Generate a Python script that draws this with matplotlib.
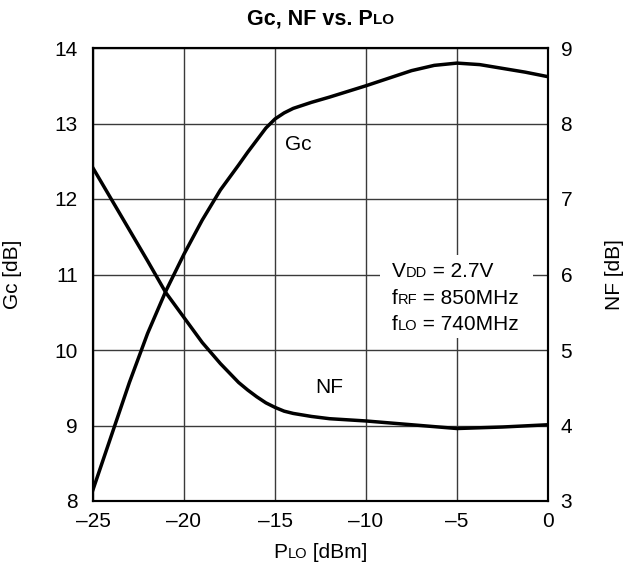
import matplotlib
matplotlib.use("Agg")
import matplotlib.pyplot as plt
from matplotlib.offsetbox import TextArea, HPacker, AnnotationBbox
from matplotlib.patches import Rectangle

plt.rcParams['font.family'] = ['Liberation Sans', 'DejaVu Sans']

# P_LO sweep [dBm]
p_lo = [-25, -24, -23, -22, -21, -20, -19, -18, -17, -16.5, -16, -15.5,
        -15, -14.5, -14, -13, -12, -10, -8.75, -7.5, -6.25, -5, -3.75,
        -2.5, -1.25, 0]
# conversion gain Gc [dB]
gc = [8.15, 8.86, 9.57, 10.22, 10.78, 11.27, 11.72, 12.12, 12.45, 12.62,
      12.78, 12.94, 13.06, 13.14, 13.2, 13.28, 13.35, 13.5, 13.6, 13.7,
      13.77, 13.8, 13.78, 13.73, 13.68, 13.62]
# noise figure NF [dB]
nf = [7.41, 7.0, 6.59, 6.18, 5.76, 5.43, 5.1, 4.82, 4.57, 4.47,
      4.38, 4.3, 4.24, 4.19, 4.16, 4.12, 4.09, 4.06, 4.035, 4.01, 3.985,
      3.96, 3.97, 3.98, 3.995, 4.01]

x_ticks = [-25, -20, -15, -10, -5, 0]
x_ticklabels = ['\u201325', '\u201320', '\u201315', '\u201310', '\u20135', '0']
gc_ticks = [8, 9, 10, 11, 12, 13, 14]
nf_ticks = [3, 4, 5, 6, 7, 8, 9]


def mixed(fig, parts, xy, align=(0.5, 0.5), big=15, small=10.5,
          weight='normal'):
    # parts: list of (text, small?) drawn on a common baseline
    boxes = [TextArea(s, textprops=dict(fontsize=small if sm else big,
                                        fontweight=weight))
             for s, sm in parts]
    pack = HPacker(children=boxes, align='baseline', pad=0, sep=0)
    ab = AnnotationBbox(pack, xy, xycoords='figure pixels',
                        box_alignment=align, frameon=False, pad=0)
    fig.add_artist(ab)


fig = plt.figure(figsize=(6.26, 5.69), dpi=100)
ax = fig.add_axes([93 / 626, 1 - 501 / 569, 455 / 626, 453 / 569])
ax2 = ax.twinx()

ax.plot(p_lo, gc, color='black', lw=2.5, zorder=3)
ax2.plot(p_lo, nf, color='black', lw=2.5, zorder=3)

ax.set_xlim(-25, 0)
ax.set_ylim(8, 14)
ax2.set_ylim(3, 9)
ax.set_xticks(x_ticks)
ax.set_xticklabels(x_ticklabels)
ax.set_yticks(gc_ticks)
ax2.set_yticks(nf_ticks)
ax.set_axisbelow(True)
ax.grid(True, color='#3a3a3a', lw=1.0)

ax.tick_params(axis='both', length=0, labelsize=15)
ax.tick_params(axis='y', pad=11)
ax.tick_params(axis='x', pad=8)
ax2.tick_params(axis='y', length=0, labelsize=15, pad=9)
for a in (ax, ax2):
    for sp in a.spines.values():
        sp.set_linewidth(1.5)

ax.set_ylabel('Gc [dB]', fontsize=15)
ax.yaxis.set_label_coords(-0.156, 0.5)
ax2.set_ylabel('NF [dB]', fontsize=15)
ax2.yaxis.set_label_coords(1.125, 0.5)

# curve labels
ax.text(-13.75, 12.72, 'Gc', fontsize=15, ha='center', va='center')
ax.text(-12.0, 9.5, 'NF', fontsize=15, ha='center', va='center')

# condition box
ax.add_patch(Rectangle((0.631, 0.36), 0.336, 0.183, transform=ax.transAxes,
                       facecolor='white', edgecolor='none', zorder=1))
mixed(fig, [('V', False), ('DD', True), (' = 2.7V', False)],
      (392, 569 - 281), align=(0, 0))
mixed(fig, [('f', False), ('RF', True), (' = 850MHz', False)],
      (392, 569 - 308), align=(0, 0))
mixed(fig, [('f', False), ('LO', True), (' = 740MHz', False)],
      (392, 569 - 334), align=(0, 0))

# title and x label with small-cap subscripts
mixed(fig, [('Gc, NF vs. P', False), ('LO', True)], (320.5, 569 - 19),
      big=15.5, small=11, weight='bold')
mixed(fig, [('P', False), ('LO', True), (' [dBm]', False)], (320.5, 569 - 553))

fig.savefig('out.png', dpi=100)
